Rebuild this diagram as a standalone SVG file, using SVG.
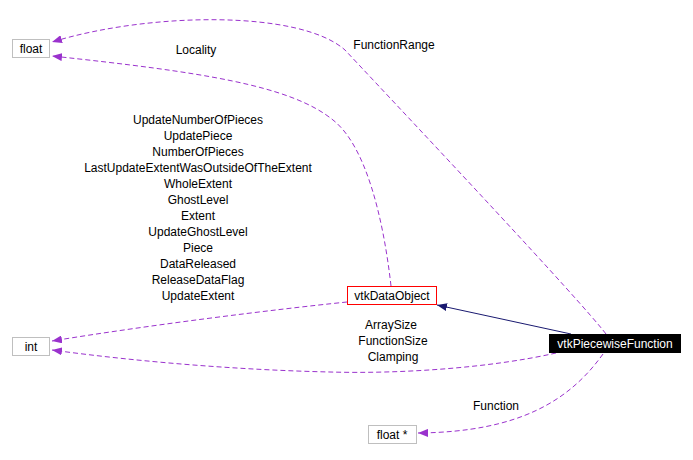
<svg xmlns="http://www.w3.org/2000/svg" width="693" height="460" viewBox="0 0 693 460">
<style>
text{font-family:"Liberation Sans",Arial,sans-serif;font-size:12px;fill:#000;text-anchor:middle}
.n{fill:#fff;stroke:#bfbfbf;stroke-width:1}
.e{fill:none;stroke:#9a32cd;stroke-width:1;stroke-dasharray:5,3}
.i{fill:none;stroke:#191970;stroke-width:1}
</style>
<defs>
<marker id="pa" markerWidth="11" markerHeight="8" refX="10" refY="4" orient="auto" markerUnits="userSpaceOnUse"><path d="M0,0 L10,4 L0,8 Z" fill="#9a32cd"/></marker>
<marker id="na" markerWidth="11" markerHeight="8" refX="10" refY="4" orient="auto" markerUnits="userSpaceOnUse"><path d="M0,0 L10,4 L0,8 Z" fill="#191970"/></marker>
</defs>
<rect width="693" height="460" fill="#fff"/>
<g id="edges">
<path class="e" d="M606,334 C580,300 420,130 345,50 C300,10 150,12 52,42" marker-end="url(#pa)"/>
<path class="e" d="M391,286 C383,215 365,145 333,120 C290,85 200,72 52,56" marker-end="url(#pa)"/>
<path class="e" d="M347,302 C270,310 150,325 52,341" marker-end="url(#pa)"/>
<path class="e" d="M556,353 C490,368 400,374 330,372 C240,370 140,362 52,350" marker-end="url(#pa)"/>
<path class="i" d="M571,334 L437,305" marker-end="url(#na)"/>
<path class="e" d="M603,354 C570,400 520,432 418,433" marker-end="url(#pa)"/>
<text x="196" y="54">Locality</text>
<text x="394" y="49">FunctionRange</text>
<text x="198" y="124">UpdateNumberOfPieces</text>
<text x="198" y="140">UpdatePiece</text>
<text x="198" y="156">NumberOfPieces</text>
<text x="198" y="172">LastUpdateExtentWasOutsideOfTheExtent</text>
<text x="198" y="188">WholeExtent</text>
<text x="198" y="204">GhostLevel</text>
<text x="198" y="220">Extent</text>
<text x="198" y="236">UpdateGhostLevel</text>
<text x="198" y="252">Piece</text>
<text x="198" y="268">DataReleased</text>
<text x="198" y="284">ReleaseDataFlag</text>
<text x="198" y="300">UpdateExtent</text>
<text x="391" y="329">ArraySize</text>
<text x="393" y="345">FunctionSize</text>
<text x="393" y="361">Clamping</text>
<text x="496" y="410">Function</text>
</g>
<g id="float"><rect class="n" x="12.5" y="39.5" width="37" height="18"/><text x="31" y="53">float</text></g>
<g id="int"><rect class="n" x="12.5" y="337.5" width="37" height="18"/><text x="31" y="351">int</text></g>
<g id="vtkDataObject"><rect x="347.5" y="286.5" width="89" height="18" fill="#fff" stroke="#ff0000"/><text x="392" y="300">vtkDataObject</text></g>
<g id="vtkPiecewiseFunction"><rect x="549" y="334" width="132" height="19" fill="#000"/><text x="615" y="348" style="fill:#fff">vtkPiecewiseFunction</text></g>
<g id="floatptr"><rect class="n" x="368.5" y="425.5" width="48" height="18"/><text x="392" y="439">float *</text></g>
</svg>
